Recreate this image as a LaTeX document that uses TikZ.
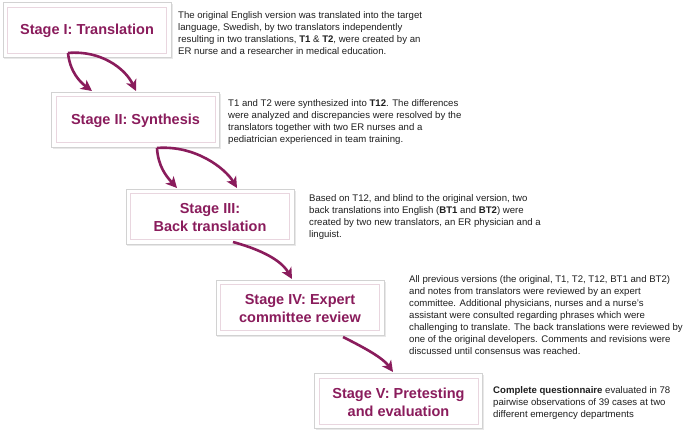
\documentclass[tikz,border=0pt]{standalone}
\usepackage{fontspec}
\setmainfont{Liberation Sans}
\usetikzlibrary{arrows.meta}
\definecolor{mag}{HTML}{8A1C5C}
\definecolor{innerb}{HTML}{E9D6DF}
\definecolor{outerb}{HTML}{D2D2D2}
\definecolor{shad}{HTML}{E8E8E8}
\tikzset{
  stagebox/.style={draw=outerb, line width=0.9pt, fill=white, minimum width=168pt, minimum height=55pt, inner sep=0pt},
  innerframe/.style={draw=innerb, line width=0.8pt},
  titletext/.style={text=mag, font=\fontsize{14.5}{18}\selectfont\bfseries, align=center},
  desc/.style={anchor=north west, inner sep=0pt, align=left, font=\fontsize{9.6}{12}\selectfont, text=black!88},
  flow/.style={draw=mag, line width=2.6pt, -{Stealth[length=11pt,width=11pt,inset=3pt]}},
}
\begin{document}
\begin{tikzpicture}[x=1pt,y=-1pt]
\useasboundingbox (0,0) rectangle (685,434);
\fill[white] (0,0) rectangle (685,434);
% boxes
\foreach \n/\cx/\cy in {b1/87/30, b2/135.5/119.5, b3/210/216.5, b4/300/307.5, b5/398.5/401}{
  \fill[shad] (\cx-83,\cy-26) rectangle (\cx+85.5,\cy+29);
  \node[stagebox] (\n) at (\cx,\cy) {};
  \draw[innerframe] ([shift={(5,5)}]\n.north west) rectangle ([shift={(-5,-5)}]\n.south east);
}
\node[titletext] (t1) at ([yshift=-1pt]b1) {Stage I: Translation};
\node[titletext] (t2) at ([yshift=-1pt]b2) {Stage II: Synthesis};
\node[titletext] (t3) at ([yshift=-1pt]b3) {Stage III:\\Back translation};
\node[titletext] (t4) at ([yshift=-1pt]b4) {Stage IV: Expert\\committee review};
\node[titletext] (t5) at ([yshift=-1pt]b5) {Stage V: Pretesting\\and evaluation};
% descriptions
\node[desc] (d1) at (178,11.5) {The original English version was translated into the target\\language, Swedish, by two translators independently\\resulting in two translations, \textbf{T1} \& \textbf{T2}, were created by an\\ER nurse and a researcher in medical education.};
\node[desc] (d2) at (228,99.5) {T1 and T2 were synthesized into \textbf{T12}. The differences\\were analyzed and discrepancies were resolved by the\\translators together with two ER nurses and a\\pediatrician experienced in team training.};
\node[desc] (d3) at (309,194.5) {Based on T12, and blind to the original version, two\\back translations into English (\textbf{BT1} and \textbf{BT2}) were\\created by two new translators, an ER physician and a\\linguist.};
\node[desc] (d4) at (409,275.5) {All previous versions (the original, T1, T2, T12, BT1 and BT2)\\and notes from translators were reviewed by an expert\\committee. Additional physicians, nurses and a nurse's\\assistant were consulted regarding phrases which were\\challenging to translate. The back translations were reviewed by\\one of the original developers. Comments and revisions were\\discussed until consensus was reached.};
\node[desc] (d5) at (493,386.5) {\textbf{Complete questionnaire} evaluated in 78\\pairwise observations of 39 cases at two\\different emergency departments};
% connector anchors
\coordinate (s1) at (68,53);
\coordinate (e1a) at (92,91);
\coordinate (e1b) at (136,91);
\coordinate (s2) at (157,148);
\coordinate (e2a) at (177,188);
\coordinate (e2b) at (237,188);
\coordinate (s3) at (233,242);
\coordinate (e3) at (292,279);
\coordinate (s4) at (343,337);
\coordinate (e4) at (393,372);
\draw[flow] (s1) .. controls (70,72) and (80,82) .. (e1a);
\draw[flow] (s1) .. controls (100,50) and (125,68) .. (e1b);
\draw[flow] (s2) .. controls (158,166) and (166,176) .. (e2a);
\draw[flow] (s2) .. controls (195,145) and (225,168) .. (e2b);
\draw[flow] (s3) .. controls (255,248) and (280,258) .. (e3);
\draw[flow] (s4) .. controls (365,348) and (383,358) .. (e4);
\end{tikzpicture}
\end{document}
